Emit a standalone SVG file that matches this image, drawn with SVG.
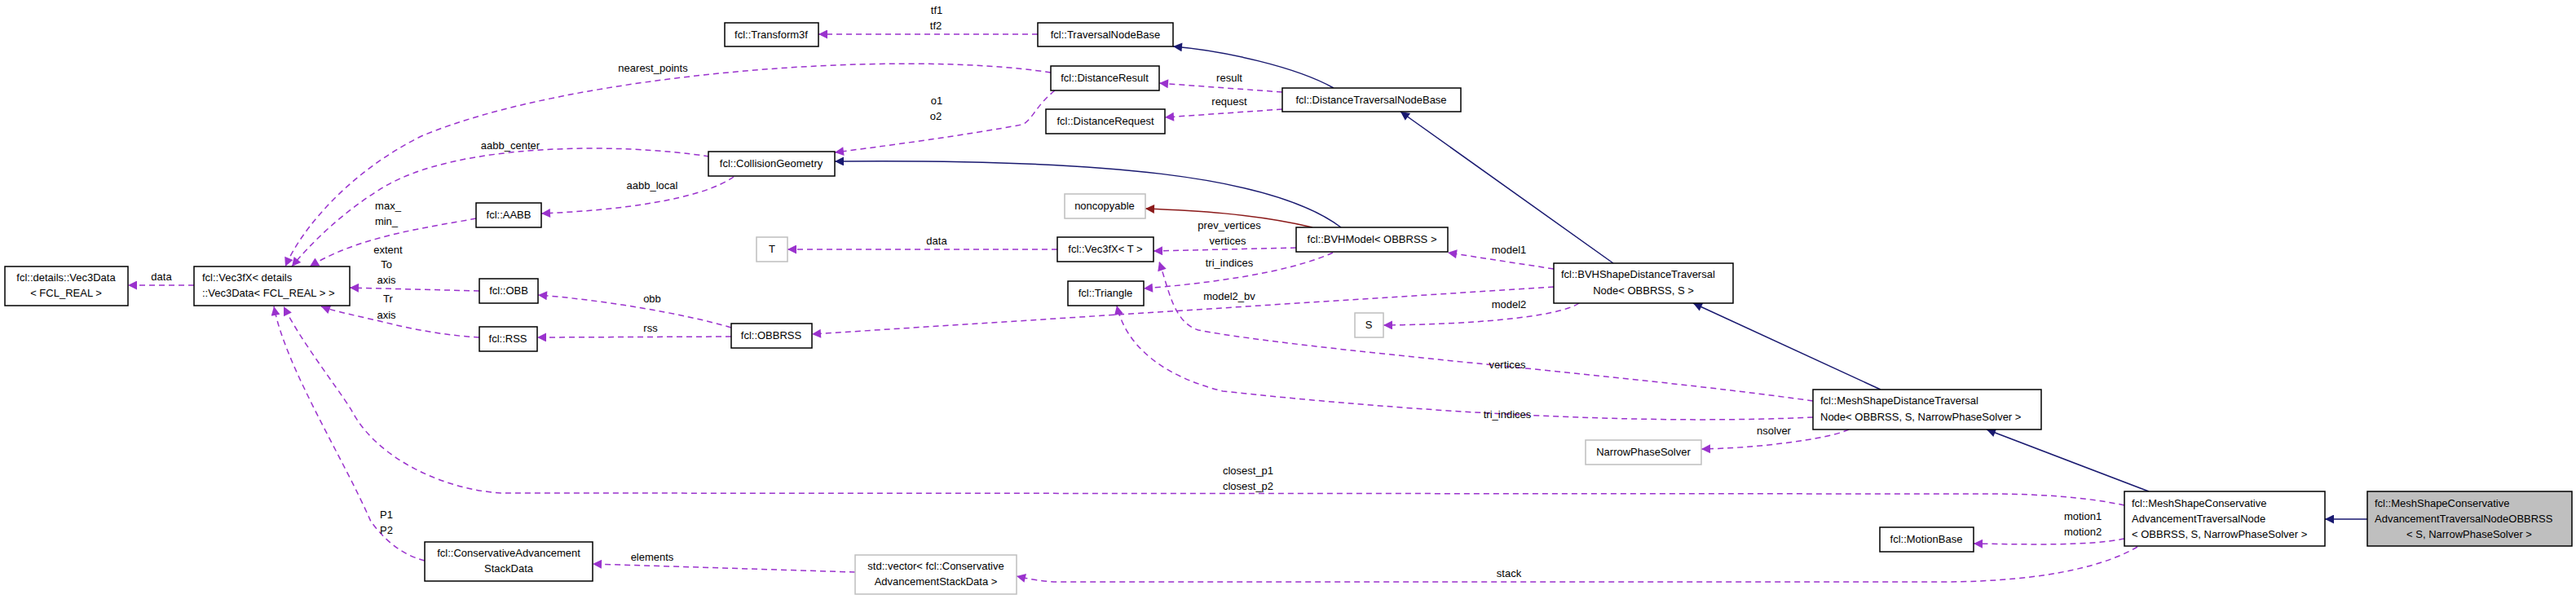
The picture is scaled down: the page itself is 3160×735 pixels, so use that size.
<svg xmlns="http://www.w3.org/2000/svg" width="3160" height="735" viewBox="0 0 3160 735">
<style>
text{font-family:"Liberation Sans",Arial,sans-serif;font-size:13px;fill:#000}
.n rect{fill:#fff;stroke:#000;stroke-width:1.5}
.g rect{fill:#fff;stroke:#bfbfbf;stroke-width:1.5}
.t rect{fill:#bfbfbf;stroke:#000;stroke-width:1.5}
.m{text-anchor:middle}
.d{fill:none;stroke:#9a32cd;stroke-width:1.5;stroke-dasharray:7,5;marker-end:url(#ap)}
.i{fill:none;stroke:#191970;stroke-width:1.5;marker-end:url(#an)}
.r{fill:none;stroke:#8b1a1a;stroke-width:1.5;marker-end:url(#ar)}
</style>
<defs>
<marker id="ap" viewBox="0 0 10 10" refX="10" refY="5" markerWidth="15" markerHeight="11" orient="auto" markerUnits="userSpaceOnUse"><path d="M0,0L10,5L0,10z" fill="#9a32cd"/></marker>
<marker id="an" viewBox="0 0 10 10" refX="10" refY="5" markerWidth="15" markerHeight="11" orient="auto" markerUnits="userSpaceOnUse"><path d="M0,0L10,5L0,10z" fill="#191970"/></marker>
<marker id="ar" viewBox="0 0 10 10" refX="10" refY="5" markerWidth="15" markerHeight="11" orient="auto" markerUnits="userSpaceOnUse"><path d="M0,0L10,5L0,10z" fill="#8b1a1a"/></marker>
</defs>
<g id="connectors">
<path class="d" d="M1273,42 L1004,42"/>
<path class="i" d="M1636,108 C1590,82 1500,62 1439,57"/>
<path class="d" d="M1573,113 L1422,102"/>
<path class="d" d="M1573,134 L1429,144"/>
<path class="d" d="M1294,111 C1270,130 1265,150 1253,153 C1190,165 1080,180 1024,187"/>
<path class="d" d="M1289,89 C1100,60 700,90 517,167 C430,210 370,280 350,327"/>
<path class="d" d="M870,192 C760,175 560,175 470,230 C420,260 380,300 358,327"/>
<path class="d" d="M900,217 C860,245 760,258 664,262"/>
<path class="d" d="M584,268 C520,280 440,290 380,327"/>
<path class="i" d="M1645,279 C1560,215 1350,195 1024,198"/>
<path class="r" d="M1610,279 C1540,262 1460,258 1405,256"/>
<path class="d" d="M1297,306 L966,306"/>
<path class="d" d="M1590,304 L1415,308"/>
<path class="d" d="M1635,310 C1580,335 1480,348 1403,354"/>
<path class="d" d="M1906,330 L1776,310"/>
<path class="d" d="M1906,352 L996,410"/>
<path class="d" d="M1937,372 C1910,390 1800,398 1697,399"/>
<path class="d" d="M2224,492 C2000,460 1600,430 1470,405 C1440,395 1435,360 1422,321"/>
<path class="d" d="M2224,512 C2050,520 1800,512 1500,480 C1420,460 1380,420 1370,375"/>
<path class="d" d="M2268,527 C2240,540 2150,550 2087,551"/>
<path class="i" d="M2307,478 L2077,372"/>
<path class="i" d="M1979,323 L1718,137"/>
<path class="i" d="M2636,603 L2437,527"/>
<path class="i" d="M2904,637 L2852,637"/>
<path class="d" d="M2606,620 C2560,610 2500,606 2440,606 L614,605 C540,600 460,560 431,503 C410,470 370,420 348,376"/>
<path class="d" d="M521,688 C490,680 470,660 455,640 C420,560 350,450 336,376"/>
<path class="d" d="M2606,661 C2560,670 2490,668 2421,667"/>
<path class="d" d="M2622,671 C2590,690 2520,714 2380,714 L1300,714 C1280,714 1260,710 1247,707"/>
<path class="d" d="M1049,702 L727,692"/>
<path class="d" d="M588,357 L429,353"/>
<path class="d" d="M588,414 C550,412 510,405 470,395 C440,388 410,382 394,376"/>
<path class="d" d="M897,402 C840,385 740,368 660,362"/>
<path class="d" d="M897,413 L659,414"/>
<path class="d" d="M238,350 L157,350"/>
</g>
<g id="edge-labels" class="m">
<text x="1149" y="17" class="m">tf1</text><text x="1148" y="36" class="m">tf2</text>
<text x="1508" y="100" class="m">result</text><text x="1508" y="129" class="m">request</text>
<text x="1149" y="128" class="m">o1</text><text x="1148" y="147" class="m">o2</text>
<text x="801" y="88" class="m">nearest_points</text>
<text x="626" y="183" class="m">aabb_center</text>
<text x="800" y="232" class="m">aabb_local</text>
<text x="476" y="257" class="m">max_</text><text x="474" y="276" class="m">min_</text>
<text x="476" y="311" class="m">extent</text><text x="474" y="329" class="m">To</text><text x="474" y="348" class="m">axis</text>
<text x="476" y="371" class="m">Tr</text><text x="474" y="391" class="m">axis</text>
<text x="198" y="344" class="m">data</text>
<text x="800" y="371" class="m">obb</text><text x="798" y="407" class="m">rss</text>
<text x="1508" y="281" class="m">prev_vertices</text><text x="1506" y="300" class="m">vertices</text>
<text x="1508" y="327" class="m">tri_indices</text><text x="1149" y="300" class="m">data</text>
<text x="1508" y="368" class="m">model2_bv</text>
<text x="1851" y="311" class="m">model1</text><text x="1851" y="378" class="m">model2</text>
<text x="1849" y="452" class="m">vertices</text><text x="1849" y="513" class="m">tri_indices</text>
<text x="2176" y="533" class="m">nsolver</text>
<text x="2555" y="638" class="m">motion1</text><text x="2555" y="657" class="m">motion2</text>
<text x="1531" y="582" class="m">closest_p1</text><text x="1531" y="601" class="m">closest_p2</text>
<text x="1851" y="708" class="m">stack</text>
<text x="474" y="636" class="m">P1</text><text x="474" y="655" class="m">P2</text>
<text x="800" y="688" class="m">elements</text>
</g>
<g id="Vec3Data" class="n"><rect x="6" y="327" width="151" height="48"/><text x="81" y="345" class="m">fcl::details::Vec3Data</text><text x="81" y="364" class="m">&lt; FCL_REAL &gt;</text></g>
<g id="Vec3fX_details" class="n"><rect x="238" y="327" width="191" height="48"/><text x="248" y="345">fcl::Vec3fX&lt; details</text><text x="248" y="364">::Vec3Data&lt; FCL_REAL &gt; &gt;</text></g>
<g id="AABB" class="n"><rect x="584" y="249" width="80" height="30"/><text x="624" y="268" class="m">fcl::AABB</text></g>
<g id="OBB" class="n"><rect x="588" y="342" width="72" height="30"/><text x="624" y="361" class="m">fcl::OBB</text></g>
<g id="RSS" class="n"><rect x="588" y="401" width="71" height="30"/><text x="623" y="420" class="m">fcl::RSS</text></g>
<g id="OBBRSS" class="n"><rect x="897" y="397" width="99" height="30"/><text x="946" y="416" class="m">fcl::OBBRSS</text></g>
<g id="CollisionGeometry" class="n"><rect x="869" y="186" width="155" height="30"/><text x="946" y="205" class="m">fcl::CollisionGeometry</text></g>
<g id="Transform3f" class="n"><rect x="889" y="28" width="115" height="29"/><text x="946" y="47" class="m">fcl::Transform3f</text></g>
<g id="TraversalNodeBase" class="n"><rect x="1273" y="28" width="166" height="29"/><text x="1356" y="47" class="m">fcl::TraversalNodeBase</text></g>
<g id="DistanceResult" class="n"><rect x="1289" y="81" width="133" height="30"/><text x="1355" y="100" class="m">fcl::DistanceResult</text></g>
<g id="DistanceRequest" class="n"><rect x="1283" y="134" width="146" height="30"/><text x="1356" y="153" class="m">fcl::DistanceRequest</text></g>
<g id="DistanceTraversalNodeBase" class="n"><rect x="1573" y="108" width="219" height="29"/><text x="1682" y="127" class="m">fcl::DistanceTraversalNodeBase</text></g>
<g id="noncopyable" class="g"><rect x="1306" y="238" width="99" height="30"/><text x="1355" y="257" class="m">noncopyable</text></g>
<g id="BVHModel" class="n"><rect x="1590" y="279" width="186" height="30"/><text x="1683" y="298" class="m">fcl::BVHModel&lt; OBBRSS &gt;</text></g>
<g id="T" class="g"><rect x="928" y="291" width="38" height="30"/><text x="947" y="310" class="m">T</text></g>
<g id="Vec3fX_T" class="n"><rect x="1297" y="291" width="118" height="30"/><text x="1356" y="310" class="m">fcl::Vec3fX&lt; T &gt;</text></g>
<g id="Triangle" class="n"><rect x="1310" y="345" width="93" height="30"/><text x="1356" y="364" class="m">fcl::Triangle</text></g>
<g id="S" class="g"><rect x="1662" y="384" width="35" height="30"/><text x="1679" y="403" class="m">S</text></g>
<g id="BVHShapeDistanceTraversalNode" class="n"><rect x="1906" y="323" width="220" height="49"/><text x="1915" y="341">fcl::BVHShapeDistanceTraversal</text><text x="2016" y="361" class="m">Node&lt; OBBRSS, S &gt;</text></g>
<g id="MeshShapeDistanceTraversalNode" class="n"><rect x="2224" y="478" width="280" height="49"/><text x="2233" y="496">fcl::MeshShapeDistanceTraversal</text><text x="2233" y="516">Node&lt; OBBRSS, S, NarrowPhaseSolver &gt;</text></g>
<g id="NarrowPhaseSolver" class="g"><rect x="1945" y="540" width="142" height="30"/><text x="2016" y="559" class="m">NarrowPhaseSolver</text></g>
<g id="MeshShapeConservativeAdvancementTraversalNode" class="n"><rect x="2606" y="603" width="246" height="67"/><text x="2615" y="622">fcl::MeshShapeConservative</text><text x="2615" y="641">AdvancementTraversalNode</text><text x="2615" y="660">&lt; OBBRSS, S, NarrowPhaseSolver &gt;</text></g>
<g id="MeshShapeConservativeAdvancementTraversalNodeOBBRSS" class="t"><rect x="2904" y="603" width="251" height="67"/><text x="2913" y="622">fcl::MeshShapeConservative</text><text x="2913" y="641">AdvancementTraversalNodeOBBRSS</text><text x="3029" y="660" class="m">&lt; S, NarrowPhaseSolver &gt;</text></g>
<g id="MotionBase" class="n"><rect x="2306" y="647" width="115" height="30"/><text x="2363" y="666" class="m">fcl::MotionBase</text></g>
<g id="ConservativeAdvancementStackData" class="n"><rect x="521" y="665" width="206" height="48"/><text x="624" y="683" class="m">fcl::ConservativeAdvancement</text><text x="624" y="702" class="m">StackData</text></g>
<g id="std_vector" class="g"><rect x="1049" y="681" width="198" height="48"/><text x="1148" y="699" class="m">std::vector&lt; fcl::Conservative</text><text x="1148" y="718" class="m">AdvancementStackData &gt;</text></g>
</svg>
